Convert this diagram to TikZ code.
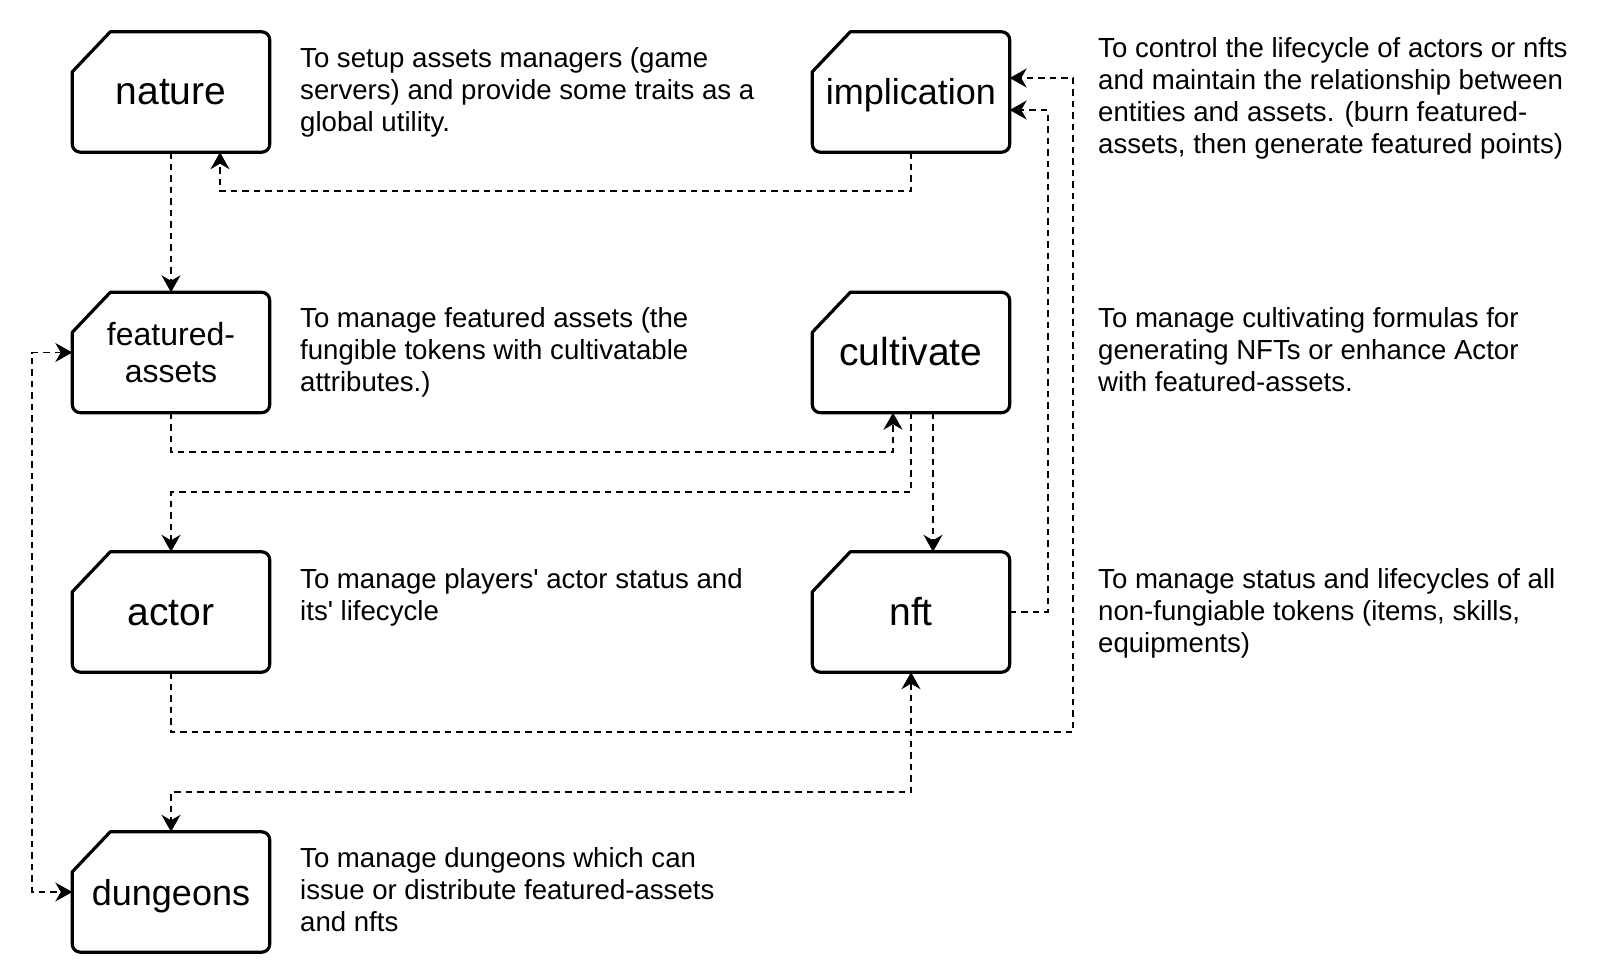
\documentclass[tikz,border=0pt]{standalone}
\usepackage{fontspec}
\setmainfont{Liberation Sans}[Ligatures=TeXOff]
\usetikzlibrary{arrows.meta}
\begin{document}
\begin{tikzpicture}[x=1pt,y=-1pt,
  box/.style={draw=none, minimum width=197pt, minimum height=120pt, inner sep=0pt, align=center},
  one/.style={text height=30pt, text depth=4pt},
  boxline/.style={line width=3.2pt, line join=round},
  conn/.style={line width=1.7pt, dash pattern=on 6.5pt off 5pt, -{Stealth[length=17pt,width=19pt,inset=5.5pt]}},
  biconn/.style={line width=1.7pt, dash pattern=on 6.5pt off 5pt, {Stealth[length=17pt,width=19pt,inset=5.5pt]}-{Stealth[length=17pt,width=19pt,inset=5.5pt]}},
  desc/.style={anchor=base west, align=left, inner sep=0pt, font=\fontsize{27.6}{32}\selectfont}
]
\fill[white] (0,0) rectangle (1610,974);
\useasboundingbox (0,0) rectangle (1610,974);

\node[box, one, font=\fontsize{39}{47}\selectfont] (nat) at (171,92) {nature};
\node[box, one, font=\fontsize{36}{43}\selectfont] (imp) at (911,92) {implication};
\node[box, font=\fontsize{32}{37}\selectfont] (fa) at (171,352.5) {featured-\\assets};
\node[box, one, font=\fontsize{39}{47}\selectfont] (cul) at (911,352.5) {cultivate};
\node[box, one, font=\fontsize{39}{47}\selectfont] (act) at (171,612) {actor};
\node[box, one, font=\fontsize{39}{47}\selectfont] (nft) at (911,612) {nft};
\node[box, one, font=\fontsize{36}{43}\selectfont] (dun) at (171,892) {dungeons};

\foreach \n in {nat,imp,fa,cul,act,nft,dun}
  \draw[boxline] ([yshift=-40pt]\n.north west) -- ([xshift=38pt]\n.north west)
    [rounded corners=8pt] -- (\n.north east) -- (\n.south east) -- (\n.south west) [sharp corners] -- cycle;

\node[desc] (d1) at (300,131) {To setup assets managers (game\\servers) and provide some traits as a\\global utility.};
\node[desc] (d2) at (1098,153) {To control the lifecycle of actors or nfts\\and maintain the relationship between\\entities and assets. (burn featured-\\assets, then generate featured points)};
\node[desc] (d3) at (300,391) {To manage featured assets (the\\fungible tokens with cultivatable\\attributes.)};
\node[desc] (d4) at (1098,391) {To manage cultivating formulas for\\generating NFTs or enhance Actor\\with featured-assets.};
\node[desc] (d5) at (300,620) {To manage players' actor status and\\its' lifecycle};
\node[desc] (d6) at (1098,652) {To manage status and lifecycles of all\\non-fungiable tokens (items, skills,\\equipments)};
\node[desc] (d7) at (300,931) {To manage dungeons which can\\issue or distribute featured-assets\\and nfts};

\draw[conn] (nat.south) -- (fa.north);
\draw[conn] (imp.south) -- ++(0,39) -| ([xshift=49pt]nat.south);
\draw[conn] (fa.south) -- ++(0,39.5) -| ([xshift=-18pt]cul.south);
\draw[conn] (cul.south) -- ++(0,79.5) -| (act.north);
\draw[conn] ([xshift=22pt]cul.south) -- ([xshift=22pt]nft.north);
\draw[conn] (nft.east) -- ++(38,0) |- ([yshift=-18pt]imp.east);
\draw[conn] (act.south) -- ++(0,60) -- ++(902,0) |- ([yshift=14pt]imp.east);
\draw[biconn] (nft.south) -- ++(0,120) -| (dun.north);
\draw[biconn] (fa.west) -- ++(-40,0) |- (dun.west);
\end{tikzpicture}
\end{document}
